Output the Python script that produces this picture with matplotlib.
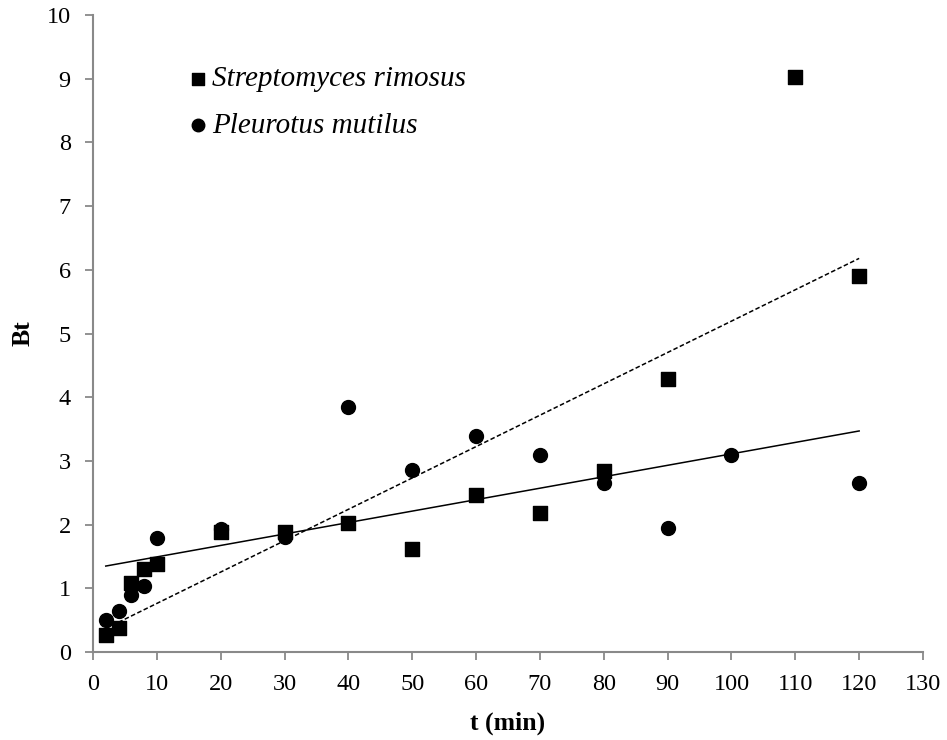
import numpy as np
import matplotlib
matplotlib.use("Agg")
import matplotlib.pyplot as plt

# Bt versus time for the two biosorbents
t_sr = [2, 4, 6, 8, 10, 20, 30, 40, 50, 60, 70, 80, 90, 110, 120]
bt_sr = [0.27, 0.38, 1.09, 1.31, 1.38, 1.88, 1.88, 2.02, 1.61, 2.46, 2.18, 2.84, 4.28, 9.03, 5.91]

t_pm = [2, 4, 6, 8, 10, 20, 30, 40, 50, 60, 70, 80, 90, 100, 120]
bt_pm = [0.50, 0.64, 0.89, 1.03, 1.79, 1.93, 1.80, 3.84, 2.85, 3.39, 3.09, 2.66, 1.94, 3.09, 2.66]

x_ticks = list(range(0, 131, 10))
y_ticks = list(range(0, 11, 1))

plt.rcParams['font.family'] = ['Liberation Serif', 'DejaVu Serif']

W, H = 947, 740
fig = plt.figure(figsize=(W / 100, H / 100), dpi=100)
ax = fig.add_axes([93 / W, 1 - 652 / H, (923 - 93) / W, (652 - 15) / H])

ax.scatter(t_sr, bt_sr, marker='s', s=105, color='black', zorder=3,
           label='Streptomyces rimosus')
ax.scatter(t_pm, bt_pm, marker='o', s=100, color='black', zorder=3,
           label='Pleurotus mutilus')

# linear trend lines over the measured range
for t, b, ls in [(t_sr, bt_sr, (0, (3, 1.6))), (t_pm, bt_pm, '-')]:
    k, c = np.polyfit(t, b, 1)
    xs = np.array([min(t), max(t)])
    ax.plot(xs, k * xs + c, color='black', lw=1.1, ls=ls, zorder=2)

ax.set_xlim(0, 130)
ax.set_ylim(0, 10)
ax.set_xticks(x_ticks)
ax.set_yticks(y_ticks)
for s in ['top', 'right']:
    ax.spines[s].set_visible(False)
for s in ['left', 'bottom']:
    ax.spines[s].set_color('#898989')
    ax.spines[s].set_linewidth(1.5)
ax.tick_params(direction='out', length=6, width=1.3, color='#898989',
               labelsize=17.5, pad=10)
ax.set_xlabel('t (min)', fontsize=18.5, fontweight='bold', labelpad=12)
ax.set_ylabel('Bt', fontsize=18.5, fontweight='bold', labelpad=9)

leg = ax.legend(loc='upper left', bbox_to_anchor=(189 / W, 1 - 66 / H),
                bbox_transform=fig.transFigure, frameon=False,
                prop={'style': 'italic', 'size': 21}, handlelength=0.6,
                handletextpad=0.2, labelspacing=0.68, markerscale=0.9,
                borderaxespad=0, borderpad=0)

fig.savefig('out.png', dpi=100)
